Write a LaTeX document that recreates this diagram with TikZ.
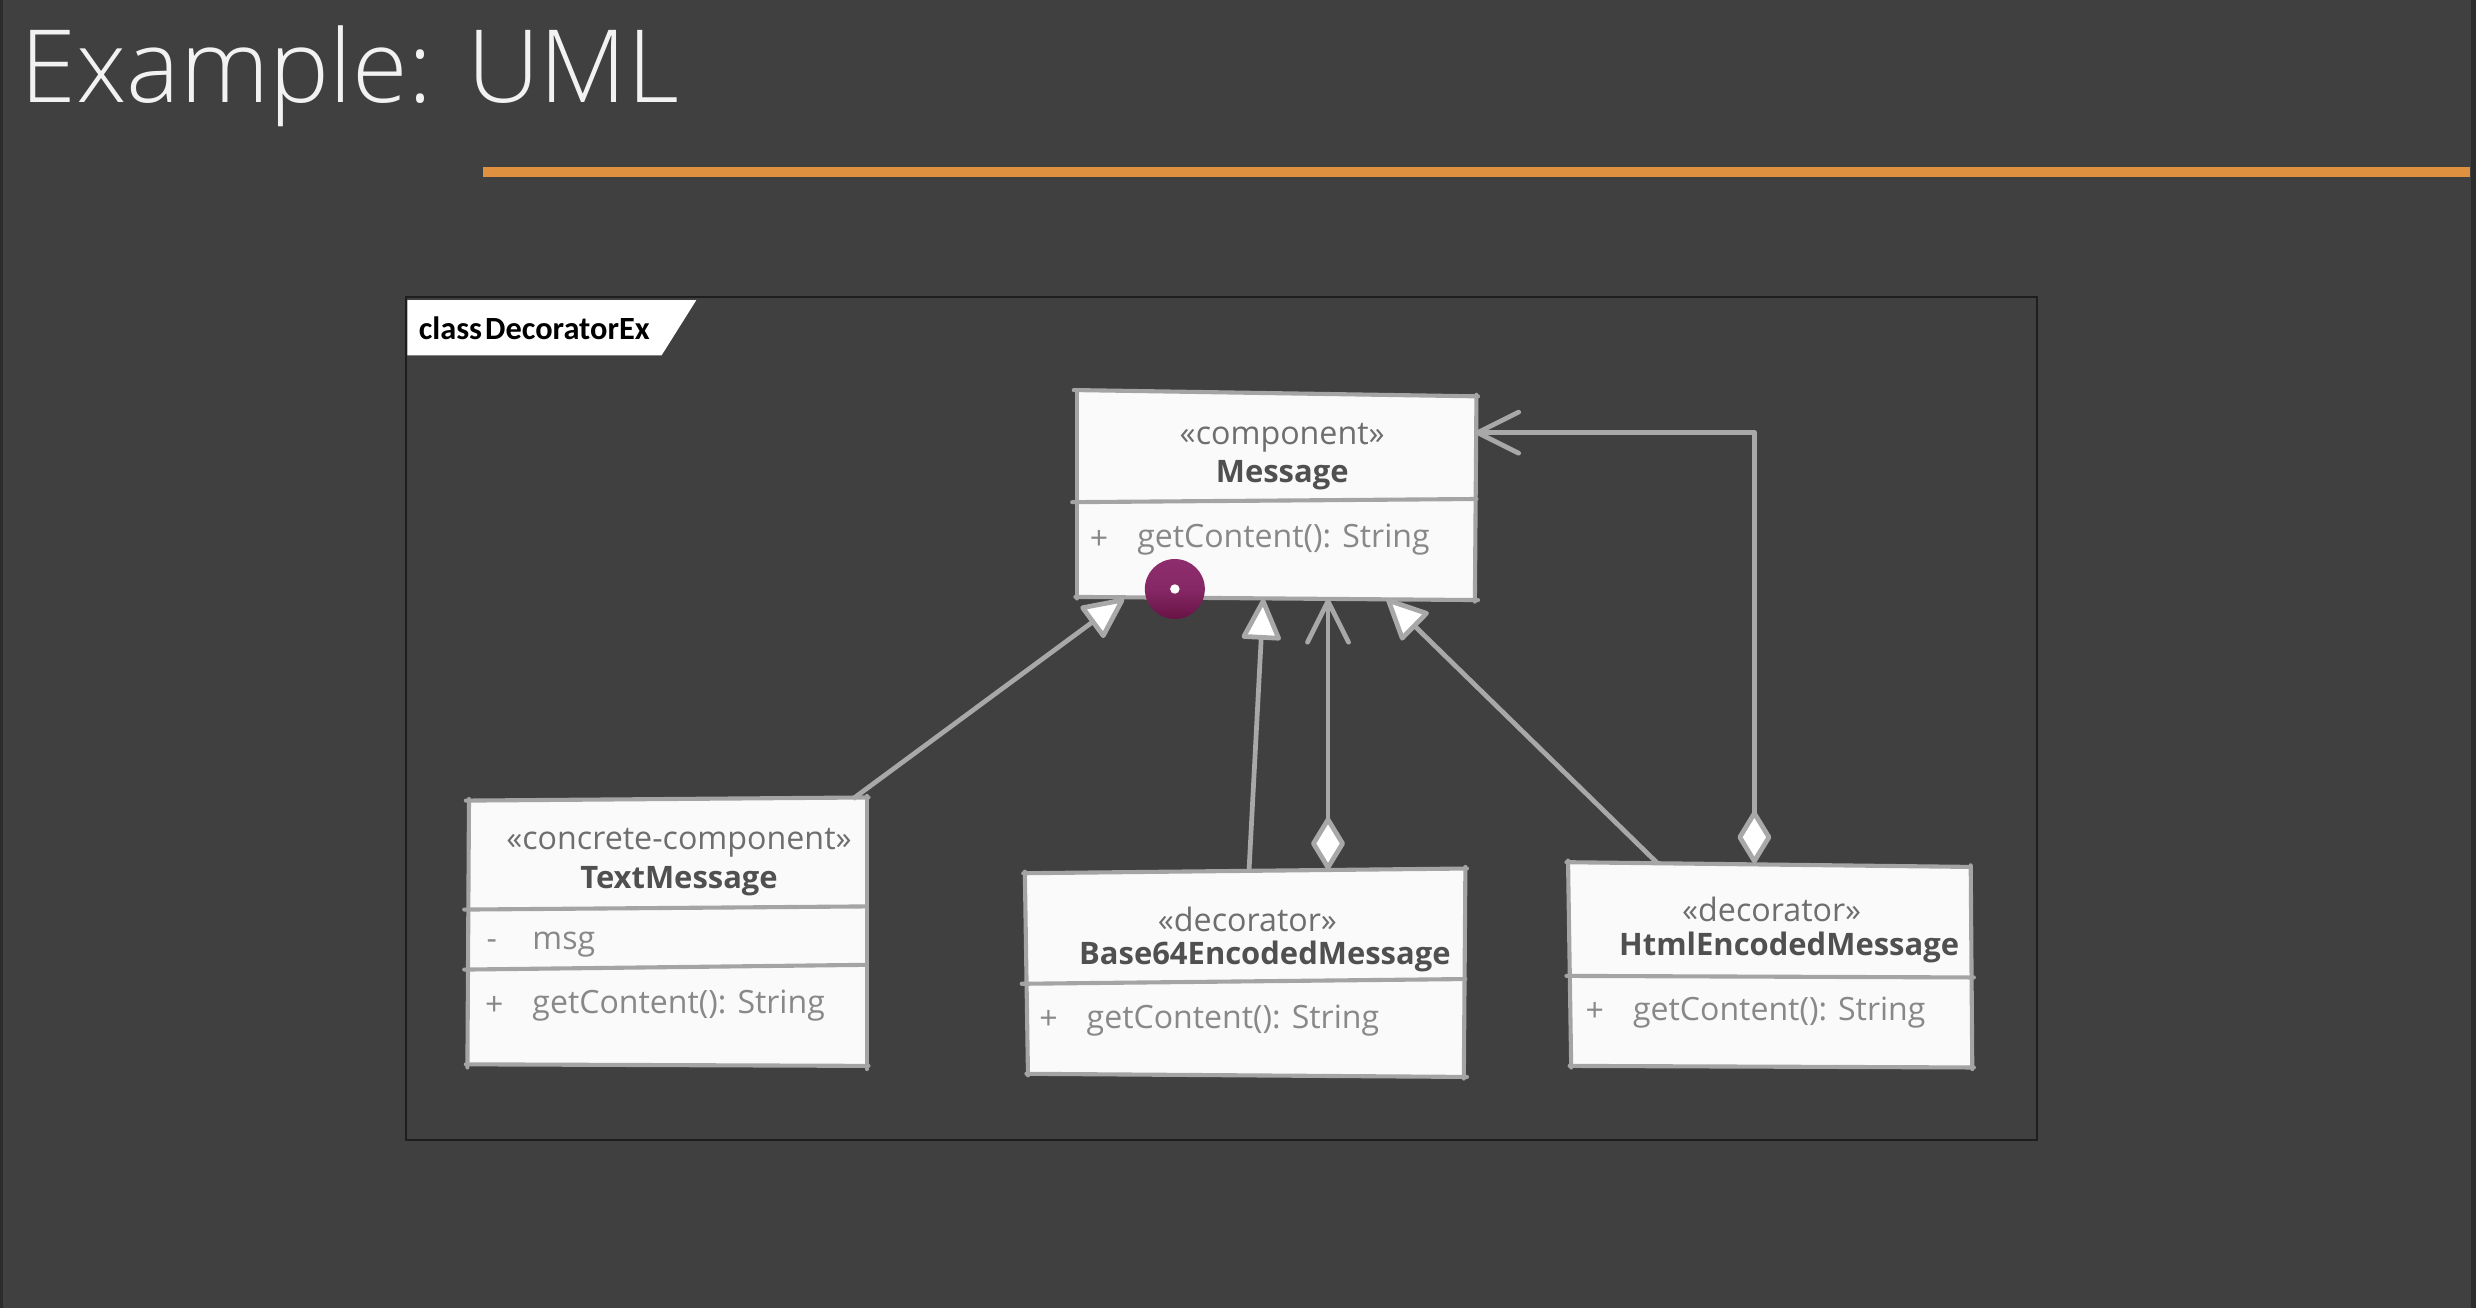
\documentclass[tikz,border=0pt]{standalone}
\usepackage{fontspec}
\setmainfont{Open Sans}
\newfontfamily\titlefont{Open Sans Light}
\newfontfamily\tabfont{Carlito}
\usetikzlibrary{arrows.meta,calc}

\definecolor{bg}{HTML}{404040}
\definecolor{edgedark}{HTML}{2C2C2C}
\definecolor{titlewhite}{HTML}{F2F2F2}
\definecolor{accent}{HTML}{E0913F}
\definecolor{framedark}{HTML}{1E1E1E}
\definecolor{boxfill}{HTML}{FAFAFA}
\definecolor{boxgrey}{HTML}{A4A4A4}
\definecolor{linegrey}{HTML}{A8A8A8}
\definecolor{stereogrey}{HTML}{6E6E6E}
\definecolor{namegrey}{HTML}{505050}
\definecolor{membergrey}{HTML}{888888}
\definecolor{dottop}{HTML}{8E2D6D}
\definecolor{dotbot}{HTML}{681245}

\tikzset{
  boxline/.style={draw=boxgrey, line width=2.6pt, line cap=round, line join=round},
  classnode/.style={rectangle, draw=none, inner sep=0pt},
  stereo/.style={font=\fontsize{20.4}{23}\selectfont, text=stereogrey, inner sep=0pt},
  cname/.style={font=\bfseries\fontsize{19.6}{23}\selectfont, text=namegrey, inner sep=0pt},
  member/.style={font=\fontsize{20.3}{23}\selectfont, text=membergrey, inner sep=0pt, anchor=west},
  conn/.style={draw=linegrey, line width=3pt, line join=round},
  gen/.style={conn, -{Triangle[fill=white, length=28pt, width=26pt, round]}},
  agg/.style={conn, {Diamond[fill=white, length=36pt, width=22pt, round]}-{Straight Barb[length=26pt, width=26pt, round]}},
}

\begin{document}
\begin{tikzpicture}[x=1pt, y=-1pt]
  % slide background
  \fill[bg] (0,0) rectangle (1568,828);
  \fill[edgedark] (0,0) rectangle (2,828);
  \fill[edgedark] (1565,0) rectangle (1568,828);
  \useasboundingbox (0,0) rectangle (1568,828);

  % heading and accent rule
  \node[anchor=base west, inner sep=0pt, text=titlewhite,
        font=\titlefont\fontsize{64}{68}\selectfont] (title) at (13,65) {Example: UML};
  \draw[accent, line width=6pt] (306,109) -- (1564,109);

  % diagram frame with its name tab
  \draw[framedark, line width=1.5pt] (257,188) rectangle (1290,722);
  \fill[white] (258,190) -- (441,190) -- (419,225) -- (258,225) -- cycle;
  \node[anchor=west, inner sep=0pt, text=black,
        font=\tabfont\bfseries\fontsize{20.5}{22}\selectfont] (framename) at (265,208) {class\hspace{2pt}DecoratorEx};

  % class boxes (anchors for the connectors)
  \node[classnode, minimum width=252pt, minimum height=130pt] (msg)  at (808,314) {};
  \node[classnode, minimum width=252pt, minimum height=169pt] (tm)   at (423,590.5) {};
  \node[classnode, minimum width=279pt, minimum height=131pt] (b64)  at (788.5,616.5) {};
  \node[classnode, minimum width=255pt, minimum height=129pt] (html) at (1120.5,611.5) {};

  % Message
  \fill[boxfill] (682,248) -- (934,251) -- (934,379) -- (682,378) -- cycle;
  \draw[boxline] (680,247) -- (936,251);
  \draw[boxline] (935,250) -- (934,381);
  \draw[boxline] (936,380) -- (681,378);
  \draw[boxline] (682,379) -- (682,247);
  \draw[boxline] (679,318) -- (935,316);
  \node[stereo] (msgst) at (812,277) {«component»};
  \node[cname]  (msgname) at (812,301) {Message};
  \node[member] (msgvis) at (690,342) {+};
  \node[member] (msgop) at (720,342) {getContent(): String};

  % TextMessage
  \fill[boxfill] (297,507) -- (548,505) -- (549,675) -- (296,674) -- cycle;
  \draw[boxline] (295,507) -- (550,505);
  \draw[boxline] (549,504) -- (549,677);
  \draw[boxline] (550,675) -- (295,674);
  \draw[boxline] (296,676) -- (297,506);
  \draw[boxline] (294,576) -- (549,574);
  \draw[boxline] (294,614) -- (549,611);
  \node[stereo] (tmst) at (430,534) {«concrete-component»};
  \node[cname]  (tmname) at (430,558) {TextMessage};
  \node[member] (tmattrvis) at (308,598) {-};
  \node[member] (tmattr) at (337,598) {msg};
  \node[member] (tmvis) at (307,637) {+};
  \node[member] (tmop) at (337,637) {getContent(): String};

  % Base64EncodedMessage
  \fill[boxfill] (649,553) -- (928,550) -- (928,682) -- (651,680) -- cycle;
  \draw[boxline] (648,553) -- (929,550);
  \draw[boxline] (928,549) -- (927,683);
  \draw[boxline] (929,682) -- (650,680);
  \draw[boxline] (651,681) -- (649,552);
  \draw[boxline] (647,623) -- (928,620);
  \node[stereo] (b64st) at (790,582) {«decorator»};
  \node[cname]  (b64name) at (801,606) {Base64EncodedMessage};
  \node[member] (b64vis) at (658,646) {+};
  \node[member] (b64op) at (688,646) {getContent(): String};

  % HtmlEncodedMessage
  \fill[boxfill] (993,546) -- (1247,549) -- (1249,676) -- (995,675) -- cycle;
  \draw[boxline] (992,546) -- (1248,549);
  \draw[boxline] (1248,548) -- (1249,677);
  \draw[boxline] (1250,676) -- (994,675);
  \draw[boxline] (995,676) -- (993,545);
  \draw[boxline] (992,618) -- (1250,619);
  \node[stereo] (htmlst) at (1122,576) {«decorator»};
  \node[cname]  (htmlname) at (1133,600) {HtmlEncodedMessage};
  \node[member] (htmlvis) at (1004,641) {+};
  \node[member] (htmlop) at (1034,641) {getContent(): String};

  % generalisations
  \draw[gen] ([xshift=-9pt]tm.north east) -- ([xshift=30pt]msg.south west);
  \draw[gen] ([xshift=2.5pt]b64.north) -- ([xshift=-8pt]msg.south);
  \draw[gen] ([xshift=57pt]html.north west) -- ([xshift=-56pt]msg.south east);

  % aggregations of the wrapped component
  \draw[agg] ([xshift=52.5pt]b64.north) -- ([xshift=33pt]msg.south);
  \draw[agg] ([xshift=-9.5pt]html.north) |- ([yshift=40pt]msg.east);

  % pointer dot
  \shade[top color=dottop, bottom color=dotbot, middle color=dottop!80!dotbot]
        (744,373) circle (19);
  \node[circle, fill=white, inner sep=0pt, minimum size=6pt] (pointer) at (744,373) {};
\end{tikzpicture}
\end{document}
